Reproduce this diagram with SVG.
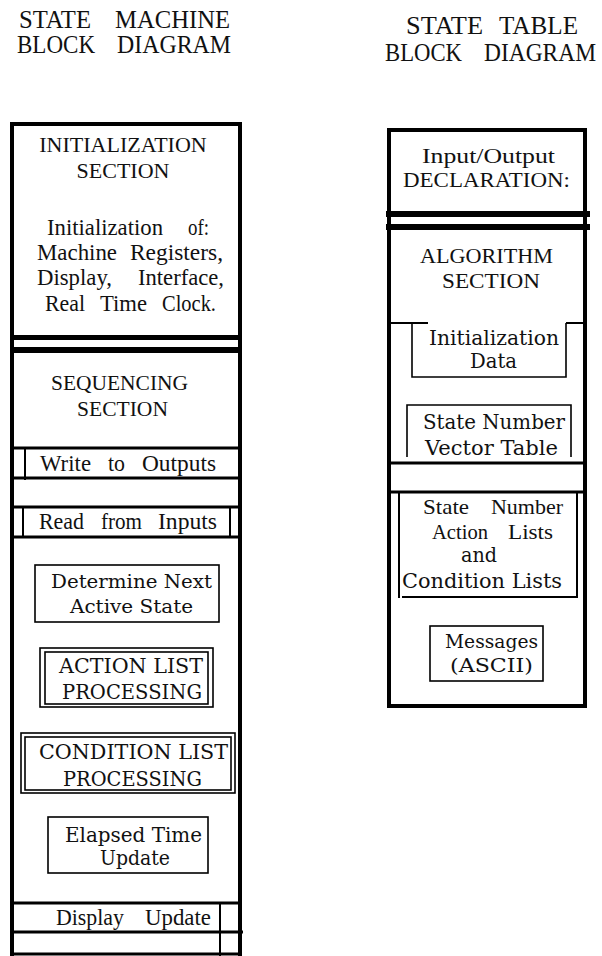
<svg xmlns="http://www.w3.org/2000/svg" width="602" height="956" viewBox="0 0 602 956">
  <style>
    text { fill: #111; }
    .t { font-family: "Liberation Serif", "Times New Roman", serif; }
    .c { font-family: "DejaVu Serif", "Liberation Serif", serif; }
    .frame { fill: none; stroke: #000; stroke-width: 4; }
    .rule { stroke: #000; stroke-width: 3; fill: none; }
    .thin { stroke: #000; stroke-width: 2; fill: none; }
    .box { fill: none; stroke: #000; stroke-width: 1.6; }
    .bar { fill: #000; }
  </style>
  <rect width="602" height="956" fill="#fff"/>

  <!-- Titles -->
  <g id="title-state-machine" class="t" font-size="25">
    <text x="19" y="28" textLength="72" lengthAdjust="spacingAndGlyphs">STATE</text>
    <text x="115" y="28" textLength="115" lengthAdjust="spacingAndGlyphs">MACHINE</text>
    <text x="17" y="53" textLength="78" lengthAdjust="spacingAndGlyphs">BLOCK</text>
    <text x="117" y="53" textLength="114" lengthAdjust="spacingAndGlyphs">DIAGRAM</text>
  </g>
  <g id="title-state-table" class="t" font-size="25">
    <text x="406" y="34" textLength="77" lengthAdjust="spacingAndGlyphs">STATE</text>
    <text x="499" y="34" textLength="79" lengthAdjust="spacingAndGlyphs">TABLE</text>
    <text x="385" y="61" textLength="77" lengthAdjust="spacingAndGlyphs">BLOCK</text>
    <text x="484" y="61" textLength="112" lengthAdjust="spacingAndGlyphs">DIAGRAM</text>
  </g>

  <!-- ===== State machine column ===== -->
  <g id="state-machine-frame">
    <path class="frame" d="M12,956 V124 H240 V956"/>
    <rect class="bar" x="12" y="335" width="228" height="5"/>
    <rect class="bar" x="12" y="347" width="228" height="6"/>
  </g>

  <g id="initialization-section">
    <g class="t" font-size="22" text-anchor="middle">
      <text x="123" y="152">INITIALIZATION</text>
      <text x="123" y="178">SECTION</text>
    </g>
    <g class="t" font-size="23">
      <text x="47" y="235" textLength="116" lengthAdjust="spacingAndGlyphs">Initialization</text>
      <text x="188" y="235" textLength="21" lengthAdjust="spacingAndGlyphs">of:</text>
      <text x="37" y="260" textLength="80" lengthAdjust="spacingAndGlyphs">Machine</text>
      <text x="130" y="260" textLength="93" lengthAdjust="spacingAndGlyphs">Registers,</text>
      <text x="37" y="285" textLength="75" lengthAdjust="spacingAndGlyphs">Display,</text>
      <text x="138" y="285" textLength="86" lengthAdjust="spacingAndGlyphs">Interface,</text>
      <text x="45" y="311" textLength="40" lengthAdjust="spacingAndGlyphs">Real</text>
      <text x="100" y="311" textLength="47" lengthAdjust="spacingAndGlyphs">Time</text>
      <text x="162" y="311" textLength="54" lengthAdjust="spacingAndGlyphs">Clock.</text>
    </g>
  </g>

  <g id="sequencing-section">
    <g class="t" font-size="22">
      <text x="51" y="390" textLength="137" lengthAdjust="spacingAndGlyphs">SEQUENCING</text>
      <text x="77" y="416" textLength="91" lengthAdjust="spacingAndGlyphs">SECTION</text>
    </g>
  </g>

  <g id="write-outputs">
    <path class="rule" d="M12,448 H240 M12,478 H240"/>
    <path class="thin" d="M25,448 V480"/>
    <g class="t" font-size="23">
      <text x="40" y="471" textLength="51" lengthAdjust="spacingAndGlyphs">Write</text>
      <text x="108" y="471" textLength="17" lengthAdjust="spacingAndGlyphs">to</text>
      <text x="142" y="471" textLength="74" lengthAdjust="spacingAndGlyphs">Outputs</text>
    </g>
  </g>

  <g id="read-inputs">
    <path class="rule" d="M12,507 H240 M12,537 H240"/>
    <path class="thin" d="M23,507 V537 M230,507 V537"/>
    <g class="t" font-size="23">
      <text x="39" y="529" textLength="45" lengthAdjust="spacingAndGlyphs">Read</text>
      <text x="101" y="529" textLength="41" lengthAdjust="spacingAndGlyphs">from</text>
      <text x="158" y="529" textLength="59" lengthAdjust="spacingAndGlyphs">Inputs</text>
    </g>
  </g>

  <g id="determine-next-state">
    <rect class="box" x="35" y="565" width="184" height="57"/>
    <g class="c" font-size="19">
      <text x="51" y="588" textLength="161" lengthAdjust="spacingAndGlyphs">Determine Next</text>
      <text x="70" y="613" textLength="123" lengthAdjust="spacingAndGlyphs">Active State</text>
    </g>
  </g>

  <g id="action-list-processing">
    <rect class="box" x="40" y="648" width="173" height="59"/>
    <rect class="box" x="45" y="652" width="163" height="52"/>
    <g class="c" font-size="21">
      <text x="59" y="673" textLength="144" lengthAdjust="spacingAndGlyphs">ACTION LIST</text>
      <text x="62" y="699" textLength="140" lengthAdjust="spacingAndGlyphs">PROCESSING</text>
    </g>
  </g>

  <g id="condition-list-processing">
    <rect class="box" x="21" y="733" width="214" height="60"/>
    <rect class="box" x="25" y="737" width="206" height="53"/>
    <g class="c" font-size="21">
      <text x="39" y="759" textLength="189" lengthAdjust="spacingAndGlyphs">CONDITION LIST</text>
      <text x="63" y="786" textLength="139" lengthAdjust="spacingAndGlyphs">PROCESSING</text>
    </g>
  </g>

  <g id="elapsed-time-update">
    <rect class="box" x="48" y="817" width="160" height="56"/>
    <g class="c" font-size="20">
      <text x="65" y="842" textLength="137" lengthAdjust="spacingAndGlyphs">Elapsed Time</text>
      <text x="100" y="865" textLength="70" lengthAdjust="spacingAndGlyphs">Update</text>
    </g>
  </g>

  <g id="display-update">
    <path class="rule" d="M12,903 H240 M12,932 H243 M12,954 H240"/>
    <path class="thin" d="M220,903 V956"/>
    <g class="t" font-size="23">
      <text x="56" y="925" textLength="68" lengthAdjust="spacingAndGlyphs">Display</text>
      <text x="145" y="925" textLength="66" lengthAdjust="spacingAndGlyphs">Update</text>
    </g>
  </g>

  <!-- ===== State table column ===== -->
  <g id="state-table-frame">
    <path class="frame" d="M389,706 V130 H585 V706 Z"/>
    <rect class="bar" x="386" y="211" width="204" height="6"/>
    <rect class="bar" x="386" y="224" width="204" height="6"/>
  </g>

  <g id="io-declaration">
    <g class="t" font-size="22">
      <text x="422" y="163" textLength="133" lengthAdjust="spacingAndGlyphs">Input/Output</text>
      <text x="403" y="187" textLength="167" lengthAdjust="spacingAndGlyphs">DECLARATION:</text>
    </g>
  </g>

  <g id="algorithm-section">
    <g class="t" font-size="22">
      <text x="420" y="263" textLength="133" lengthAdjust="spacingAndGlyphs">ALGORITHM</text>
      <text x="442" y="288" textLength="98" lengthAdjust="spacingAndGlyphs">SECTION</text>
    </g>
  </g>

  <g id="initialization-data">
    <path class="thin" d="M389,323 H428 M566,323 H585"/>
    <path class="box" d="M412,323 V377 H566 V323"/>
    <g class="c" font-size="20">
      <text x="429" y="345" textLength="130" lengthAdjust="spacingAndGlyphs">Initialization</text>
      <text x="470" y="368" textLength="47" lengthAdjust="spacingAndGlyphs">Data</text>
    </g>
  </g>

  <g id="vector-table">
    <path class="box" d="M407,457 V405 H571 V457"/>
    <path class="rule" d="M389,463 H585 M389,492 H585"/>
    <g class="c" font-size="20">
      <text x="423" y="429" textLength="142" lengthAdjust="spacingAndGlyphs">State Number</text>
      <text x="425" y="455" textLength="133" lengthAdjust="spacingAndGlyphs">Vector Table</text>
    </g>
  </g>

  <g id="action-condition-lists">
    <path class="thin" d="M399,492 V598 M577,492 V598 M402,597 H577"/>
    <g class="t" font-size="22">
      <text x="423" y="514" textLength="46" lengthAdjust="spacingAndGlyphs">State</text>
      <text x="491" y="514" textLength="72" lengthAdjust="spacingAndGlyphs">Number</text>
      <text x="432" y="539" textLength="56" lengthAdjust="spacingAndGlyphs">Action</text>
      <text x="508" y="539" textLength="45" lengthAdjust="spacingAndGlyphs">Lists</text>
    </g>
    <g class="c" font-size="20">
      <text x="461" y="562" textLength="36" lengthAdjust="spacingAndGlyphs">and</text>
      <text x="402" y="588" textLength="160" lengthAdjust="spacingAndGlyphs">Condition Lists</text>
    </g>
  </g>

  <g id="messages">
    <rect class="box" x="430" y="626" width="113" height="55"/>
    <g class="c" font-size="19">
      <text x="445" y="648" textLength="93" lengthAdjust="spacingAndGlyphs">Messages</text>
      <text x="450" y="672" textLength="83" lengthAdjust="spacingAndGlyphs">(ASCII)</text>
    </g>
  </g>
</svg>
